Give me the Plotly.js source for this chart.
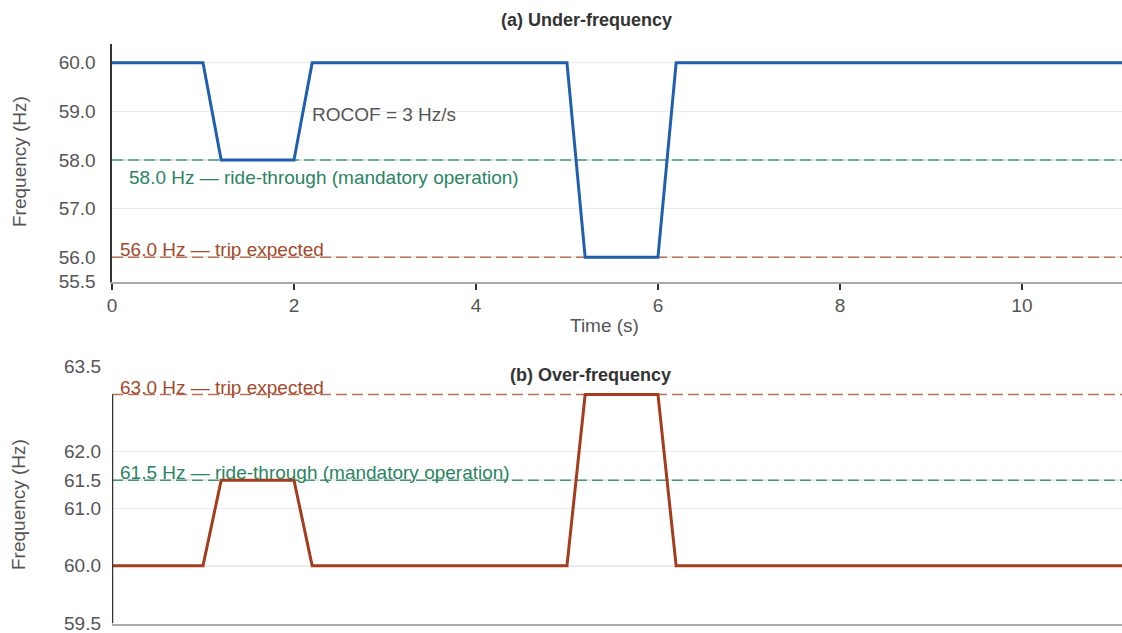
<!DOCTYPE html>
<html>
<head>
<meta charset="utf-8">
<script src="https://cdn.plot.ly/plotly-3.0.1.min.js"></script>
<style>html,body{margin:0;padding:0;background:#fff;}#chart{width:1122px;height:633px;}</style>
</head>
<body>
<div id="chart"></div>
<script>
// ---- data ----
const timeUnder = [0, 1.0, 1.2, 2.0, 2.2, 5.0, 5.2, 6.0, 6.2, 11.1];
const freqUnder = [60, 60, 58, 58, 60, 60, 56, 56, 60, 60];
const timeOver  = [0, 1.0, 1.2, 2.0, 2.2, 5.0, 5.2, 6.0, 6.2, 11.1];
const freqOver  = [60, 60, 61.5, 61.5, 60, 60, 63, 63, 60, 60];

const underRideThrough = 58.0;
const underTrip = 56.0;
const overRideThrough = 61.5;
const overTrip = 63.0;

const xTickVals = [0, 2, 4, 6, 8, 10];
const yTickValsTop = [55.5, 56, 57, 58, 59, 60];
const yTickTextTop = ['55.5', '56.0', '57.0', '58.0', '59.0', '60.0'];
const yTickValsBot = [59, 60, 61, 61.5, 62, 63.5];
const yTickTextBot = ['59.5', '60.0', '61.0', '61.5', '62.0', '63.5'];

const labelRideUnder = '58.0 Hz — ride-through (mandatory operation)';
const labelTripUnder = '56.0 Hz — trip expected';
const labelRideOver = '61.5 Hz — ride-through (mandatory operation)';
const labelTripOver = '63.0 Hz — trip expected';

// ---- styles ----
const FONT = 'Liberation Sans, Arial, sans-serif';
const FS = 19;
const BLUE = '#1f5fad';
const RUST = '#a33d1d';
const GREEN_LINE = '#3f9a78';
const GREEN_TEXT = '#2a8462';
const BROWN_LINE = '#b8705a';
const BROWN_TEXT = '#a34a2c';
const TICK = '#555';

const H = 633;
const py = p => 1 - p / H;
const dashStyle = '11px,5px';

const tStart = timeUnder[0];
const tEnd = timeUnder[timeUnder.length - 1];

function thresholdTrace(level, color, xa, ya) {
  return {x: [tStart, tEnd], y: [level, level], xaxis: xa, yaxis: ya, mode: 'lines',
    line: {color: color, width: 1.5, dash: dashStyle}, hoverinfo: 'skip', showlegend: false};
}

const traces = [
  thresholdTrace(underRideThrough, GREEN_LINE, 'x', 'y'),
  thresholdTrace(underTrip, BROWN_LINE, 'x', 'y'),
  thresholdTrace(overRideThrough, GREEN_LINE, 'x2', 'y2'),
  thresholdTrace(overTrip, BROWN_LINE, 'x2', 'y2'),
  {x: timeUnder, y: freqUnder, xaxis: 'x', yaxis: 'y', mode: 'lines',
   line: {color: BLUE, width: 3}, hoverinfo: 'skip', showlegend: false, cliponaxis: false},
  {x: timeOver, y: freqOver, xaxis: 'x2', yaxis: 'y2', mode: 'lines',
   line: {color: RUST, width: 3}, hoverinfo: 'skip', showlegend: false}
];

const shapes = [
  // vertical axis line in lower panel (stops at the trip level)
  {type: 'line', xref: 'x2', yref: 'y2', x0: 0, x1: 0, y0: 58.99, y1: overTrip,
   line: {color: '#333', width: 2.5}, layer: 'above'}
];

const annotations = [
  {text: '<b>(a) Under-frequency</b>', xref: 'paper', yref: 'paper', x: (586 - 112) / 1010, y: py(20),
   xanchor: 'center', yanchor: 'middle', showarrow: false, font: {family: FONT, size: 18, color: '#333'}},
  {text: '<b>(b) Over-frequency</b>', xref: 'paper', yref: 'paper', x: (590 - 112) / 1010, y: py(375),
   xanchor: 'center', yanchor: 'middle', showarrow: false, font: {family: FONT, size: 18, color: '#333'}},
  {text: 'Time (s)', xref: 'paper', yref: 'paper', x: (604 - 112) / 1010, y: py(325),
   xanchor: 'center', yanchor: 'middle', showarrow: false, font: {family: FONT, size: FS, color: TICK}},
  {text: 'Frequency (Hz)', xref: 'paper', yref: 'paper', x: -93 / 1010, y: py(162),
   xanchor: 'center', yanchor: 'middle', textangle: -90, showarrow: false, font: {family: FONT, size: FS, color: TICK}},
  {text: 'Frequency (Hz)', xref: 'paper', yref: 'paper', x: -93 / 1010, y: py(505),
   xanchor: 'center', yanchor: 'middle', textangle: -90, showarrow: false, font: {family: FONT, size: FS, color: TICK}},
  {text: 'ROCOF = 3 Hz/s', xref: 'x', yref: 'y', x: 2.18, y: 58.93,
   xanchor: 'left', yanchor: 'middle', showarrow: false, font: {family: FONT, size: FS, color: TICK}},
  {text: labelRideUnder, xref: 'x', yref: 'y', x: 0.17, y: 57.63,
   xanchor: 'left', yanchor: 'middle', showarrow: false, font: {family: FONT, size: FS, color: GREEN_TEXT}},
  {text: labelTripUnder, xref: 'x', yref: 'y', x: 0.07, y: 56.16,
   xanchor: 'left', yanchor: 'middle', showarrow: false, font: {family: FONT, size: FS, color: BROWN_TEXT}},
  {text: labelTripOver, xref: 'x2', yref: 'y2', x: 0.07, y: 63.13,
   xanchor: 'left', yanchor: 'middle', showarrow: false, font: {family: FONT, size: FS, color: BROWN_TEXT}},
  {text: labelRideOver, xref: 'x2', yref: 'y2', x: 0.07, y: 61.63,
   xanchor: 'left', yanchor: 'middle', showarrow: false, font: {family: FONT, size: FS, color: GREEN_TEXT}}
];

const layout = {
  width: 1122, height: 633,
  margin: {l: 112, r: 0, t: 0, b: 0},
  paper_bgcolor: '#fff', plot_bgcolor: '#fff',
  font: {family: FONT, size: FS, color: TICK},
  showlegend: false,
  xaxis: {domain: [0, 1], range: [0, 11.1], anchor: 'y', tickvals: xTickVals,
    ticks: 'outside', ticklen: 6, tickwidth: 1.5, tickcolor: '#333',
    showline: true, linecolor: '#aaa', linewidth: 2, showgrid: false, zeroline: false,
    ticklabeloverflow: 'allow',
    tickfont: {family: FONT, size: FS, color: TICK}},
  yaxis: {domain: [py(281.5), py(44)], range: [55.5, 60.385], anchor: 'x',
    tickvals: yTickValsTop, ticktext: yTickTextTop, ticks: '', ticklabelstandoff: 10,
    ticklabeloverflow: 'allow',
    showline: true, linecolor: '#333', linewidth: 2.5, showgrid: true, gridcolor: '#ebebeb', gridwidth: 1.5,
    zeroline: false, tickfont: {family: FONT, size: FS, color: TICK}},
  xaxis2: {domain: [0, 1], range: [0, 11.1], anchor: 'y2', showticklabels: false, ticks: '',
    showline: true, linecolor: '#aaa', linewidth: 2, showgrid: false, zeroline: false},
  yaxis2: {domain: [py(623.5), py(366)], range: [58.99, 63.5], anchor: 'x2',
    tickvals: yTickValsBot, ticktext: yTickTextBot, ticks: '', ticklabelstandoff: 10,
    ticklabeloverflow: 'allow',
    showline: false, showgrid: true, gridcolor: '#ebebeb', gridwidth: 1.5,
    zeroline: false, tickfont: {family: FONT, size: FS, color: TICK}},
  shapes: shapes,
  annotations: annotations
};

Plotly.newPlot('chart', traces, layout, {displayModeBar: false, staticPlot: true});
</script>
</body>
</html>
